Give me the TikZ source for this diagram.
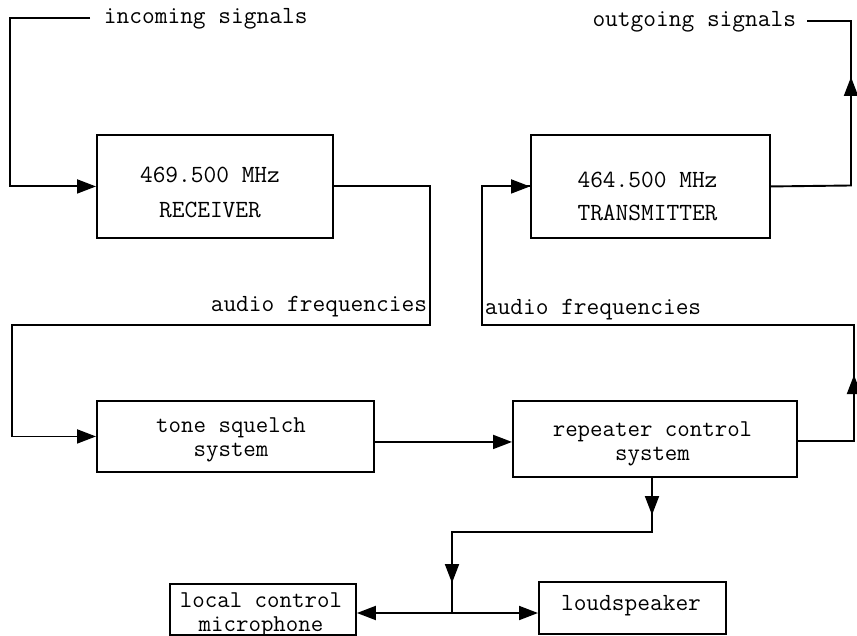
\documentclass[tikz,border=0pt]{standalone}
\usepackage{fontspec}
\usetikzlibrary{arrows.meta}
\begin{document}
\begin{tikzpicture}[x=1pt,y=-1pt,line width=1.9pt,
  box/.style={draw,rectangle,inner sep=0pt,anchor=north west},
  txt/.style={font=\ttfamily\fontsize{24.7}{27}\selectfont,inner sep=0pt,anchor=mid},
  ml/.style={font=\ttfamily\fontsize{24.2}{24.5}\selectfont,inner sep=0pt,align=center,anchor=center},
  arr/.style={-{Triangle[length=19pt,width=14pt]}},
  tip/.style={-{Triangle[length=19pt,width=14pt]}}
]
\useasboundingbox (0,0) rectangle (857,636);
% boxes
\node[box,minimum width=236pt,minimum height=103pt] (rx) at (96,134) {};
\node[box,minimum width=239pt,minimum height=103pt] (tx) at (530,134) {};
\node[box,minimum width=277pt,minimum height=71pt] (tone) at (96,400) {};
\node[box,minimum width=284pt,minimum height=76pt] (rep) at (512,400) {};
\node[box,minimum width=186pt,minimum height=51pt] (local) at (169,583) {};
\node[box,minimum width=187pt,minimum height=52pt] (loud) at (538,581) {};
% box texts
\node[ml,font=\ttfamily\fontsize{24.7}{35}\selectfont] (rxt) at (210,192.5) {469.500 MHz\\RECEIVER\hspace{12pt}};
\node[ml,font=\ttfamily\fontsize{24.7}{33}\selectfont] (txt) at (647.5,196.5) {464.500 MHz\\TRANSMITTER};
\node[ml] (tonet) at (231,440) {tone squelch\\system};
\node[ml] (rept) at (652.5,444) {repeater control\\system};
\node[ml] (localt) at (261,615) {local control\\microphone\hspace{14pt}};
\node[txt] (louda) at (631,608) {loudspeaker};
% labels
\node[txt,anchor=mid west] (inlbl) at (103,21) {incoming signals};
\node[txt,anchor=mid east] (outlbl) at (797,24) {outgoing signals};
\node[txt,anchor=mid east] (aflbl) at (428,309) {audio frequencies};
\node[txt,anchor=mid west] (arlbl) at (484,312) {audio frequencies};
% coordinates
\coordinate (in0) at (90,18);
\coordinate (in1) at (10,18);
\coordinate (a1) at (430,325);
\coordinate (a2) at (12,325);
\coordinate (r1) at (854,441);
\coordinate (r2) at (854,325);
\coordinate (r3) at (482,325);
\coordinate (o1) at (851,185.5);
\coordinate (o2) at (851,21);
\coordinate (o3) at (807,21);
\coordinate (d1) at (652,532);
\coordinate (d2) at (452,532);
\coordinate (j) at (452,613);
% connectors
\draw[arr] (in0) -- (in1) |- (rx.west);
\draw[arr] (rx.east) -| (a1) -- (a2) |- (tone.west);
\draw[arr] ([yshift=-5.5pt]tone.east) -- ([yshift=-3pt]rep.west);
\draw (rep.east |- r1) -- (r1) -- (r2) -- (r3) |- (tx.west);
\draw[arr] (r3 |- tx.west) -- (tx.west);
\draw[tip] (854,395) -- (854,375);
\draw (tx.east) -- (o1) -- (o2) -- (o3);
\draw[tip] (851,97) -- (851,77);
\draw (rep.south -| d1) -- (d1) -- (d2) -- (j);
\draw[tip] (652,495) -- (652,515);
\draw[tip] (452,563) -- (452,583);
\draw[arr] (j) -- (j -| local.east);
\draw[arr] (j) -- (j -| loud.west);
\end{tikzpicture}
\end{document}
